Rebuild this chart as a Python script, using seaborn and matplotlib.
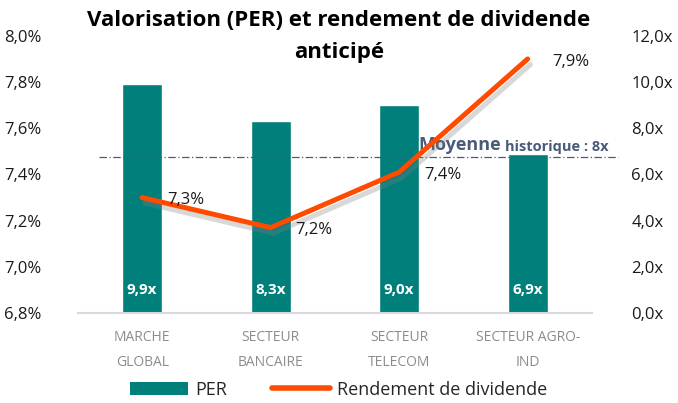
import matplotlib
matplotlib.use("Agg")
import matplotlib.pyplot as plt
import matplotlib.patheffects as pe
from matplotlib.lines import Line2D
from matplotlib.patches import Patch
from matplotlib.ticker import FuncFormatter, MultipleLocator
import numpy as np
import pandas as pd
import seaborn as sns

# donnees
categories = ["MARCHE\nGLOBAL", "SECTEUR\nBANCAIRE", "SECTEUR\nTELECOM", "SECTEUR AGRO-\nIND"]
per = [9.9, 8.3, 9.0, 6.9]
rendement = [7.30, 7.17, 7.41, 7.90]
rendement_labels = ["7,3%", "7,2%", "7,4%", "7,9%"]
moyenne_per = 6.76  # position de la ligne "Moyenne historique : 8x" sur l'axe PER

teal = "#007F7B"
orange = "#FF4A00"
gris_bleu = "#4A5A78"

sns.set_style("white")
plt.rcParams["font.family"] = ["Open Sans", "DejaVu Sans"]

df = pd.DataFrame({"Categorie": categories, "PER": per, "Rendement": rendement})
df["pos"] = np.arange(len(df))

fig = plt.figure(figsize=(6.78, 4.03), dpi=100)
ax = fig.add_axes([0.115, 0.223, 0.758, 0.688])

# barres PER (axe de droite)
sns.barplot(data=df, x="Categorie", y="PER", color=teal, width=0.31,
            saturation=1, ax=ax)
ax.set_ylim(0, 12)
ax.set_xlim(-0.5, 3.5)
ax.set_xlabel("")
ax.set_ylabel("")
for s in ["top", "left", "right"]:
    ax.spines[s].set_visible(False)
ax.spines["bottom"].set_color("#D9D9D9")
ax.spines["bottom"].set_linewidth(1.5)

for i, v in enumerate(per):
    ax.text(i, 1.0, f"{v:.1f}".replace(".", ",") + "x", ha="center", va="center",
            color="white", fontsize=11, fontweight="bold")

# ligne moyenne historique
ax.axhline(moyenne_per, xmin=0.04, xmax=1.05, color=gris_bleu, lw=0.9,
           ls=(0, (6, 2, 1, 2)), clip_on=False)
t1 = ax.text(2.15, moyenne_per + 0.12, "Moyenne", color=gris_bleu, fontsize=13,
             fontweight="bold", va="bottom", ha="left")
ax.annotate("historique : 8x", xy=(1, 0), xycoords=t1, xytext=(3, 0),
            textcoords="offset points", color=gris_bleu, fontsize=10.5,
            fontweight="bold", va="bottom", ha="left", annotation_clip=False)

# rendement (axe de gauche)
ax2 = ax.twinx()
sns.lineplot(data=df, x="pos", y="Rendement", color=orange, lw=3.6, ax=ax2,
             path_effects=[pe.SimpleLineShadow(offset=(2, -4), shadow_color="gray", alpha=0.3),
                           pe.Normal()])
ax2.set_ylim(6.8, 8.0)
ax2.set_xlim(-0.5, 3.5)
ax2.set_xlabel("")
ax2.set_ylabel("")
for s in ["top", "left", "right", "bottom"]:
    ax2.spines[s].set_visible(False)

# axes: % a gauche, x a droite
ax.yaxis.tick_right()
ax.yaxis.set_major_locator(MultipleLocator(2))
ax.yaxis.set_major_formatter(FuncFormatter(lambda v, p: f"{v:.1f}".replace(".", ",") + "x"))
ax.tick_params(axis="y", left=False, right=False, labelleft=False, labelright=True,
               pad=25, labelsize=12, labelcolor="#1a1a1a")
ax.tick_params(axis="x", length=0, pad=12, labelsize=10, labelcolor="#8C8C8C")
for lbl in ax.get_xticklabels():
    lbl.set_linespacing(1.9)

ax2.yaxis.tick_left()
ax2.yaxis.set_major_locator(MultipleLocator(0.2))
ax2.yaxis.set_major_formatter(FuncFormatter(lambda v, p: f"{v:.1f}".replace(".", ",") + "%"))
ax2.tick_params(axis="y", left=False, right=False, labelleft=True, labelright=False,
                pad=23, labelsize=12, labelcolor="#1a1a1a")

for i, (v, t) in enumerate(zip(rendement, rendement_labels)):
    ax2.annotate(t, (i, v), xytext=(18, -2), textcoords="offset points",
                 fontsize=12, color="#1a1a1a", ha="left", va="center")

fig.text(0.5, 0.948, "Valorisation (PER) et rendement de dividende",
         ha="center", va="center", fontsize=16, fontweight="bold", color="black")
fig.text(0.5, 0.87, "anticipé",
         ha="center", va="center", fontsize=16, fontweight="bold", color="black")

handles = [Patch(facecolor=teal, edgecolor="none"),
           Line2D([0], [0], color=orange, lw=4)]
fig.legend(handles, ["PER", "Rendement de dividende"], loc="lower center",
           bbox_to_anchor=(0.5, -0.03), ncol=2, frameon=False, fontsize=13,
           handlelength=3.2, handleheight=0.8, columnspacing=2.5, handletextpad=0.4)

fig.savefig("out.png", dpi=100)
